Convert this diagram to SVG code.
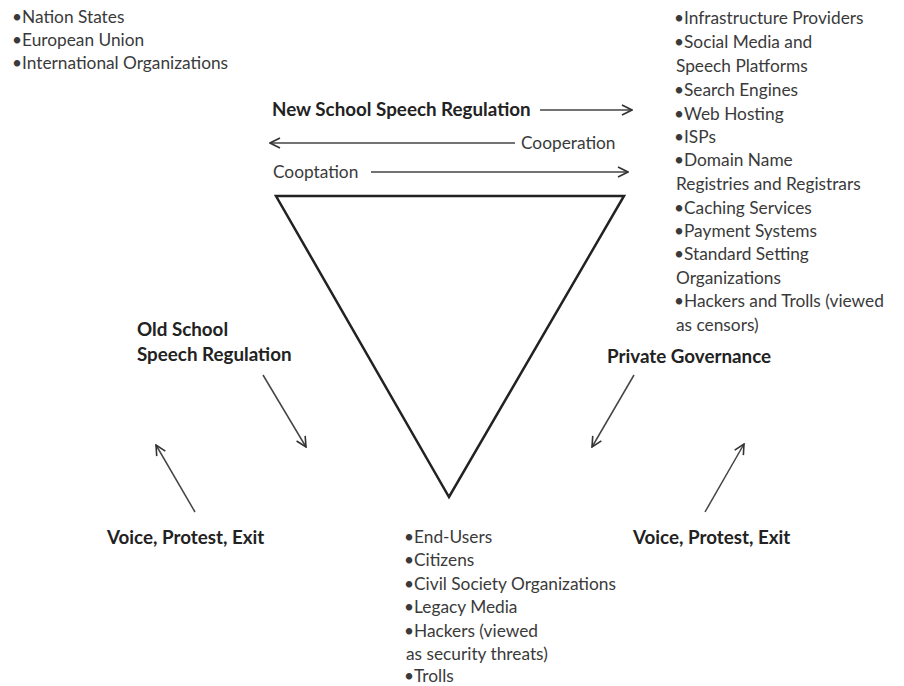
<svg xmlns="http://www.w3.org/2000/svg" width="904" height="686" viewBox="0 0 904 686">
<defs>
<marker id="arr" viewBox="0 0 12 12" refX="11" refY="6" markerWidth="12" markerHeight="12" markerUnits="userSpaceOnUse" orient="auto">
<path d="M1,1 L11,6 L1,11" fill="none" stroke="#333" stroke-width="1.6"/>
</marker>
</defs>
<style>
text{font-family:Lato,"Open Sans","Liberation Sans",sans-serif;font-size:17.3px;fill:#3a3a3a}
.b{font-weight:bold;fill:#222;font-size:18.8px}
.ln{stroke:#444;stroke-width:1.5;fill:none}
</style>
<rect width="904" height="686" fill="#fff"/>
<g id="state-actors">
<text x="12" y="23">•Nation States</text>
<text x="12" y="46">•European Union</text>
<text x="12" y="69">•International Organizations</text>
</g>
<g id="private-actors">
<text x="674" y="24">•Infrastructure Providers</text>
<text x="674" y="48">•Social Media and</text>
<text x="676" y="72">Speech Platforms</text>
<text x="674" y="96">•Search Engines</text>
<text x="674" y="120">•Web Hosting</text>
<text x="674" y="143">•ISPs</text>
<text x="674" y="166">•Domain Name</text>
<text x="676" y="190">Registries and Registrars</text>
<text x="674" y="214">•Caching Services</text>
<text x="674" y="237">•Payment Systems</text>
<text x="674" y="260">•Standard Setting</text>
<text x="676" y="284">Organizations</text>
<text x="674" y="307">•Hackers and Trolls (viewed</text>
<text x="676" y="331">as censors)</text>
</g>
<g id="users">
<text x="404" y="543">•End-Users</text>
<text x="404" y="566">•Citizens</text>
<text x="404" y="590">•Civil Society Organizations</text>
<text x="404" y="613">•Legacy Media</text>
<text x="404" y="637">•Hackers (viewed</text>
<text x="406" y="660">as security threats)</text>
<text x="404" y="682">•Trolls</text>
</g>
<g id="labels">
<text class="b" x="272" y="116">New School Speech Regulation</text>
<text x="521" y="149">Cooperation</text>
<text x="273" y="178">Cooptation</text>
<text class="b" x="137" y="336">Old School</text>
<text class="b" x="137" y="361">Speech Regulation</text>
<text class="b" x="107" y="544">Voice, Protest, Exit</text>
<text class="b" x="607" y="363">Private Governance</text>
<text class="b" x="633" y="544">Voice, Protest, Exit</text>
</g>
<g id="triangle">
<path d="M276,196 L624,196 L449,497 Z" fill="none" stroke="#222" stroke-width="2.5" stroke-linejoin="miter"/>
</g>
<g id="connectors">
<line class="ln" x1="540" y1="110" x2="632" y2="110" marker-end="url(#arr)"/>
<line class="ln" x1="515" y1="143" x2="270" y2="143" marker-end="url(#arr)"/>
<line class="ln" x1="371" y1="172" x2="628" y2="172" marker-end="url(#arr)"/>
<line class="ln" x1="263" y1="375" x2="306" y2="447" marker-end="url(#arr)"/>
<line class="ln" x1="195" y1="512" x2="156" y2="445" marker-end="url(#arr)"/>
<line class="ln" x1="634" y1="375" x2="592" y2="447" marker-end="url(#arr)"/>
<line class="ln" x1="705" y1="512" x2="744" y2="444" marker-end="url(#arr)"/>
</g>
</svg>
